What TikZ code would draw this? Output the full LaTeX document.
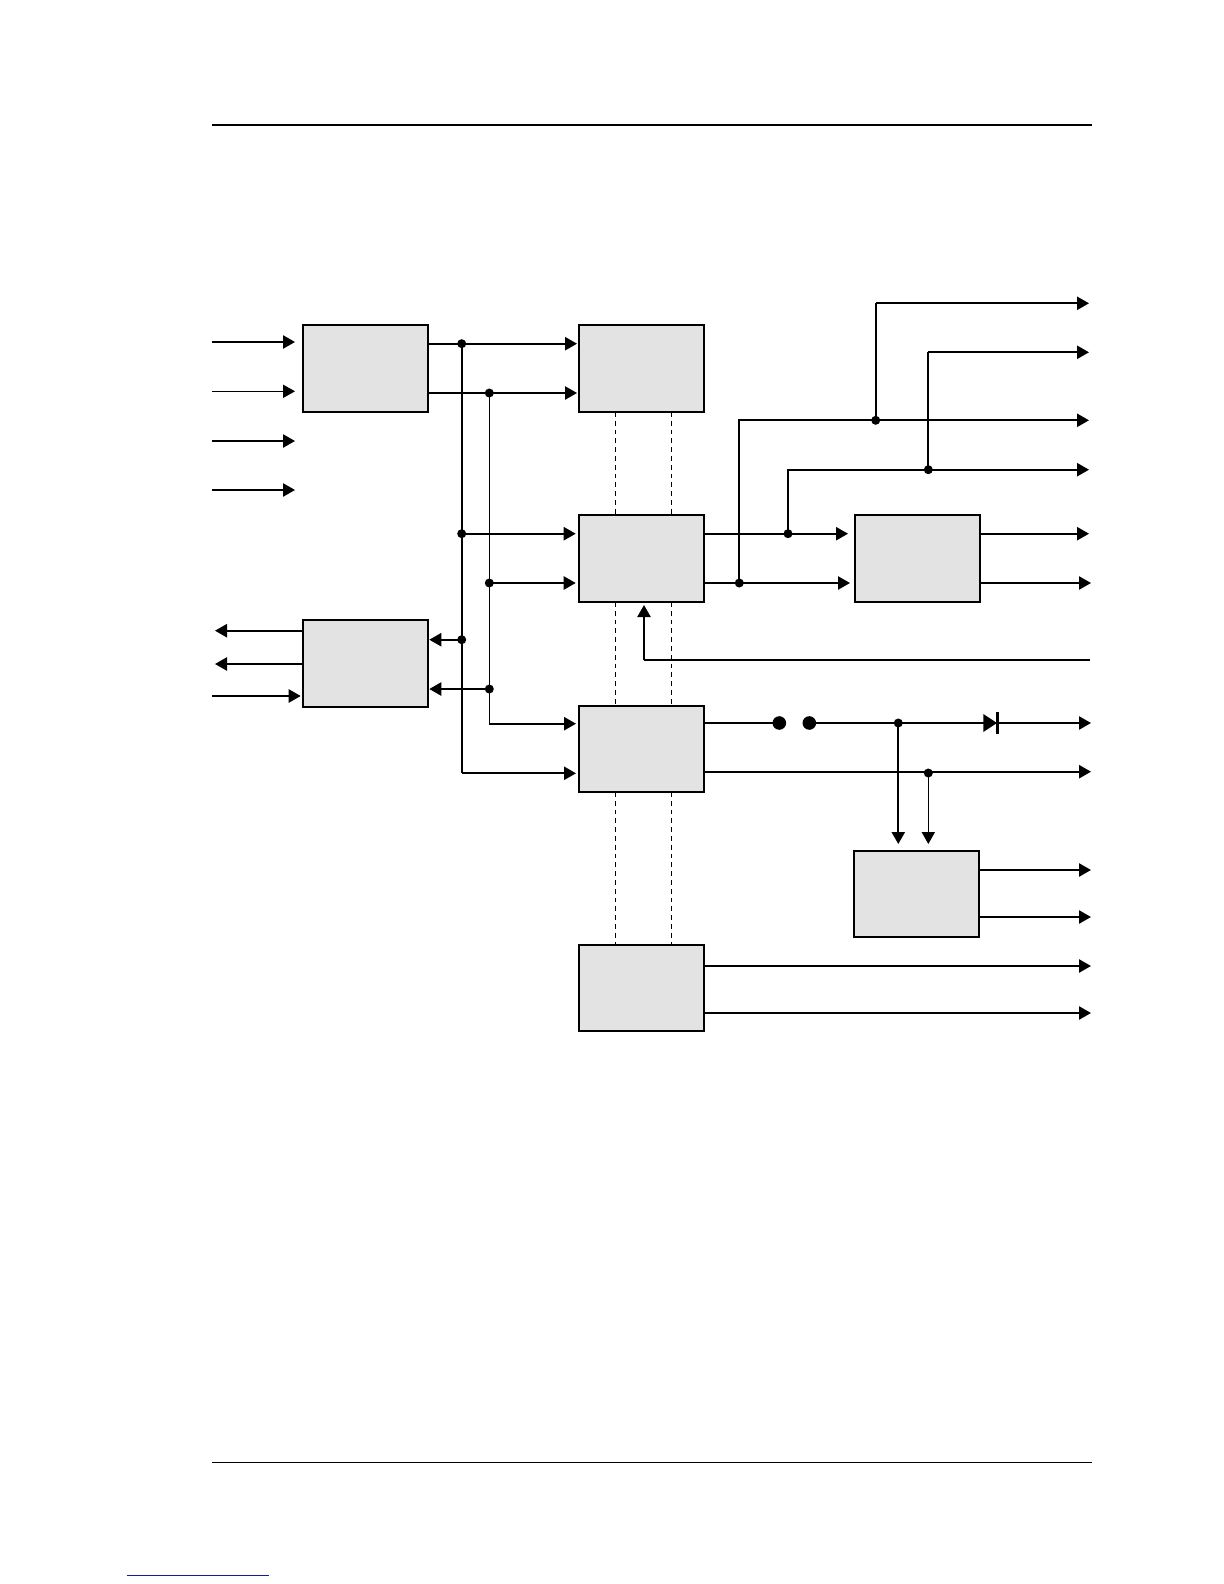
\documentclass[tikz,border=0pt]{standalone}
\usetikzlibrary{arrows.meta}
\definecolor{boxfill}{HTML}{E3E3E3}
\definecolor{linkblue}{HTML}{101E90}
\tikzset{
  blockbox/.style={draw=black,fill=boxfill,line width=0.9pt,minimum width=62.7pt,minimum height=43.5pt,inner sep=0pt},
  shortbox/.style={blockbox,minimum height=43pt},
  wire/.style={draw=black,line width=0.95pt},
  thinwire/.style={draw=black,line width=0.55pt},
  arr/.style={wire,-{Triangle[length=6pt,width=6.6pt]}},
  thinarr/.style={thinwire,-{Triangle[length=6pt,width=6.6pt]}},
  jdot/.style={circle,fill=black,inner sep=0pt,minimum size=4.5pt},
  bigdot/.style={circle,fill=black,inner sep=0pt,minimum size=6.8pt},
  guide/.style={draw=black,line width=0.4pt,dash pattern=on 2.4pt off 2pt},
}
\begin{document}
\begin{tikzpicture}[x=0.5pt,y=-0.5pt]
\useasboundingbox (0,0) rectangle (1224,1584);
% page rules
\coordinate (hl) at (212,125); \coordinate (hr) at (1092,125);
\coordinate (fl) at (212,1462); \coordinate (fr) at (1092,1462);
\coordinate (ul) at (127,1575); \coordinate (ur) at (269,1575);
\draw[line width=0.8pt] (hl) -- (hr);
\draw[line width=0.5pt] (fl) -- (fr);
\draw[linkblue,line width=0.5pt] (ul) -- (ur);
% dashed guides
\coordinate (g1a) at (615.3,412); \coordinate (g1b) at (615.3,515);
\coordinate (g2a) at (671.3,412); \coordinate (g2b) at (671.3,515);
\coordinate (g3a) at (615.3,602); \coordinate (g3b) at (615.3,706);
\coordinate (g4a) at (671.3,602); \coordinate (g4b) at (671.3,706);
\coordinate (g5a) at (615.3,792); \coordinate (g5b) at (615.3,945);
\coordinate (g6a) at (671.3,792); \coordinate (g6b) at (671.3,945);
\draw[guide] (g1a) -- (g1b);
\draw[guide] (g2a) -- (g2b);
\draw[guide] (g3a) -- (g3b);
\draw[guide] (g4a) -- (g4b);
\draw[guide] (g5a) -- (g5b);
\draw[guide] (g6a) -- (g6b);
% boxes
\node[blockbox] (A) at (365.5,368.2) {};
\node[blockbox] (E) at (365.5,663.2) {};
\node[blockbox] (B) at (641.6,368.2) {};
\node[blockbox] (C) at (641.6,558.5) {};
\node[shortbox] (D) at (641.6,749.2) {};
\node[shortbox] (G) at (641.6,988) {};
\node[blockbox] (F) at (917.6,558.5) {};
\node[shortbox] (H) at (916.5,894) {};
% junctions
\node[jdot] (j1) at (461.7,343.7) {};
\node[jdot] (j2) at (489.3,393) {};
\node[jdot] (j3) at (461.7,533.7) {};
\node[jdot] (j4) at (489.3,583) {};
\node[jdot] (j5) at (461.7,639.7) {};
\node[jdot] (j6) at (489.3,689) {};
\node[jdot] (j7) at (788,533.7) {};
\node[jdot] (j8) at (739.3,583) {};
\node[jdot] (j9) at (875.7,420.3) {};
\node[jdot] (j10) at (928.3,469.7) {};
\node[jdot] (j11) at (898.3,723) {};
\node[jdot] (j12) at (928.3,773) {};
\node[bigdot] (c1) at (779.3,723) {};
\node[bigdot] (c2) at (809.3,723) {};
% input arrows
\coordinate (i1) at (212,342); \coordinate (i1e) at (295,342);
\coordinate (i2) at (212,391.3); \coordinate (i2e) at (295,391.3);
\coordinate (i3) at (212,441); \coordinate (i3e) at (295,441);
\coordinate (i4) at (212,490); \coordinate (i4e) at (295,490);
\draw[arr] (i1) -- (i1e);
\draw[thinarr] (i2) -- (i2e);
\draw[arr] (i3) -- (i3e);
\draw[arr] (i4) -- (i4e);
% A to B and buses
\coordinate (ba1) at (577,343.7); \coordinate (ba2) at (577,393);
\draw[wire] (A.east |- j1) -- (j1.center);
\draw[arr] (j1.center) -- (ba1);
\draw[wire] (A.east |- j2) -- (j2.center);
\draw[arr] (j2.center) -- (ba2);
\coordinate (bus1) at (461.7,773.3); \coordinate (d2) at (576,773.3);
\coordinate (bus2) at (489.3,723.7); \coordinate (d1) at (576,723.7);
\draw[wire] (j1.center) -- (bus1);
\draw[arr] (bus1) -- (d2);
\draw[thinwire] (j2.center) -- (bus2);
\draw[arr] (bus2) -- (d1);
\coordinate (c1in) at (575.7,533.7); \coordinate (c2in) at (575.7,583);
\draw[arr] (j3.center) -- (c1in);
\draw[arr] (j4.center) -- (c2in);
\coordinate (e1in) at (429.3,639.7); \coordinate (e2in) at (429.3,689);
\draw[arr] (j5.center) -- (e1in);
\draw[arr] (j6.center) -- (e2in);
% E left side
\coordinate (eo1) at (215,630.7); \coordinate (eo2) at (215,664); \coordinate (ei) at (212,696); \coordinate (eie) at (300.7,696);
\draw[arr] (E.west |- eo1) -- (eo1);
\draw[arr] (E.west |- eo2) -- (eo2);
\draw[arr] (ei) -- (eie);
% C outputs
\coordinate (f1in) at (848,533.7); \coordinate (f2in) at (850,583);
\draw[wire] (C.east |- j7) -- (j7.center);
\draw[arr] (j7.center) -- (f1in);
\draw[wire] (C.east |- j8) -- (j8.center);
\draw[arr] (j8.center) -- (f2in);
% upper right branches
\coordinate (k1) at (739.3,420.3); \coordinate (k2) at (1089,420.3);
\coordinate (k3) at (788,469.7); \coordinate (k4) at (1089,469.7);
\coordinate (k5) at (875.7,303.3); \coordinate (k6) at (1089,303.3);
\coordinate (k7) at (928.3,352.3); \coordinate (k8) at (1089,352.3);
\draw[wire] (j8.center) -- (k1) -- (j9.center);
\draw[arr] (j9.center) -- (k2);
\draw[wire] (j7.center) -- (k3) -- (j10.center);
\draw[arr] (j10.center) -- (k4);
\draw[wire] (j9.center) -- (k5);
\draw[arr] (k5) -- (k6);
\draw[wire] (j10.center) -- (k7);
\draw[arr] (k7) -- (k8);
% F outputs
\coordinate (fo1) at (1089,533.7); \coordinate (fo2) at (1091,583);
\draw[arr] (F.east |- fo1) -- (fo1);
\draw[arr] (F.east |- fo2) -- (fo2);
% feedback into C
\coordinate (fbr) at (1090,660); \coordinate (fbc) at (644,660); \coordinate (fbt) at (644,605);
\draw[wire] (fbr) -- (fbc);
\draw[arr] (fbc) -- (fbt);
% D outputs
\coordinate (do1) at (1091,723); \coordinate (do2) at (1091,771.7);
\draw[wire] (D.east |- c1) -- (c1.center);
\draw[wire] (c2.center) -- (j11.center);
\draw[arr] (j11.center) -- (do1);
\draw[arr] (D.east |- do2) -- (do2);
% diode
\coordinate (da) at (983.3,714); \coordinate (db) at (983.3,732); \coordinate (dc) at (997,723);
\coordinate (dt) at (997.5,712); \coordinate (du) at (997.5,734);
\fill[black] (da) -- (dc) -- (db) -- cycle;
\draw[line width=1.3pt] (dt) -- (du);
% into H
\coordinate (hy) at (900,844);
\draw[arr] (j11.center) -- (j11.center |- hy);
\draw[thinarr] (j12.center) -- (j12.center |- hy);
% H outputs
\coordinate (ho1) at (1091,870); \coordinate (ho2) at (1091,917);
\draw[arr] (H.east |- ho1) -- (ho1);
\draw[arr] (H.east |- ho2) -- (ho2);
% G outputs
\coordinate (go1) at (1091,966); \coordinate (go2) at (1091,1013);
\draw[arr] (G.east |- go1) -- (go1);
\draw[arr] (G.east |- go2) -- (go2);
\end{tikzpicture}
\end{document}
